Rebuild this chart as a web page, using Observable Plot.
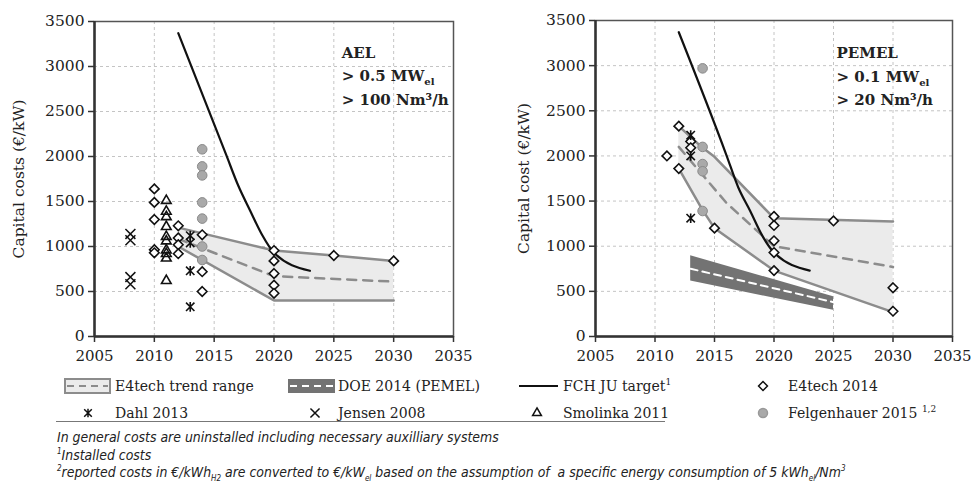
<!DOCTYPE html>
<html><head><meta charset="utf-8">
<script src="https://cdn.jsdelivr.net/npm/d3@7"></script>
<script src="https://cdn.jsdelivr.net/npm/@observablehq/plot@0.6"></script>
<style>
body{margin:0;background:#fff;}
#wrap{position:relative;width:971px;height:485px;overflow:hidden;font-family:"DejaVu Serif",serif;color:#222;}
#left,#right,#legend,#notes{position:absolute;}
#left{left:0;top:0}
#right{left:486px;top:0}
#legend{left:0;top:360px}
#notes{left:57px;top:429px;font-family:"Liberation Sans Narrow","DejaVu Sans Condensed","DejaVu Sans",sans-serif;font-style:italic;font-size:13.9px;line-height:17.5px;color:#222;white-space:nowrap;}
#notes sub,#notes sup{font-size:8px;line-height:0;}
</style></head><body>
<div id="wrap">
<div id="left"></div><div id="right"></div>
<svg id="legend" width="971" height="68"></svg>
<div id="notes">
<div>In general costs are uninstalled including necessary auxilliary systems</div>
<div><sup>1</sup>Installed costs</div>
<div><sup>2</sup>reported costs in €/kWh<sub>H2</sub> are converted to €/kW<sub>el</sub> based on the assumption of&nbsp; a specific energy consumption of 5 kWh<sub>el</sub>/Nm<sup>3</sup></div>
</div>
</div>
<script>
// ---------- data ----------
const xTicks = [2005, 2010, 2015, 2020, 2025, 2030, 2035];
const yTicks = [0, 500, 1000, 1500, 2000, 2500, 3000, 3500];

// AEL panel
const aelE4tech = [[2010,1640],[2010,1490],[2010,1300],[2010,965],[2010,930],
  [2012,1230],[2012,1095],[2012,1020],[2012,920],
  [2014,1130],[2014,720],[2014,500],
  [2020,955],[2020,840],[2020,700],[2020,570],[2020,480],
  [2025,900],[2030,840]];
const aelSmolinka = [[2011,1510],[2011,1390],[2011,1330],[2011,1220],[2011,1110],[2011,1060],[2011,960],[2011,920],[2011,870],[2011,620]];
const aelJensen = [[2008,1140],[2008,1070],[2008,660],[2008,580]];
const aelDahl = [[2013,1120],[2013,1040],[2013,730],[2013,330]];
const aelFelgenhauer = [[2014,2080],[2014,1890],[2014,1790],[2014,1490],[2014,1310],[2014,1000],[2014,850]];
// [year, lower, upper]
const aelBand = [[2012,1000,1210],[2020,400,955],[2025,400,900],[2030,400,840]];
const aelTrend = [[2012,1085],[2020,670],[2030,610]];
const aelFch = [[2012,3370],[2016,2020],[2017,1680],[2018,1400],[2019,1130],[2020,930],[2023,730]];

// PEMEL panel
const pemE4tech = [[2011,2000],[2012,2330],[2012,1860],[2013,2160],[2013,2090],[2015,1200],
  [2020,1330],[2020,1230],[2020,1060],[2020,930],[2020,730],[2025,1280],[2030,540],[2030,280]];
const pemDahl = [[2013,2230],[2013,2000],[2013,1310]];
const pemFelgenhauer = [[2014,2970],[2014,2100],[2014,1910],[2014,1830],[2014,1390]];
const pemBand = [[2012,1860,2330],[2014,1400,2090],[2015,1200,1990],[2020,730,1310],[2030,270,1275]];
const pemTrend = [[2012,2100],[2016,1480],[2020,1000],[2030,770]];
const doeBand = [[2013,615,895],[2025,290,440]];
const doeTrend = [[2013,750],[2025,380]];
const pemFch = [[2012,3370],[2016,2010],[2017,1650],[2018,1390],[2019,1120],[2020,930],[2023,730]];

// ---------- styles ----------
const bandFill = "#ebebeb", bandEdge = "#8c8c8c", doeFill = "#737373";
const dahlSymbol = {draw(ctx, size){const r = Math.sqrt(size/Math.PI);
  ctx.moveTo(-r,-r); ctx.lineTo(r,r); ctx.moveTo(r,-r); ctx.lineTo(-r,r); ctx.moveTo(0,-r*1.15); ctx.lineTo(0,r*1.15);}};
const X = d => d[0], Y = d => d[1];

function panel(o){
  const marks = [
    Plot.gridX(xTicks, {stroke:"#c4c4c4", strokeOpacity:1, strokeDasharray:"3,3"}),
    Plot.gridY(yTicks, {stroke:"#c4c4c4", strokeOpacity:1, strokeDasharray:"3,3"}),
    Plot.areaY(o.band, {x: X, y1: d=>d[1], y2: d=>d[2], fill: bandFill}),
    Plot.line(o.band, {x: X, y: d=>d[2], stroke: bandEdge, strokeWidth: 2.5}),
    Plot.line(o.band, {x: X, y: d=>d[1], stroke: bandEdge, strokeWidth: 2.5}),
    Plot.line(o.trend, {x: X, y: Y, stroke: bandEdge, strokeWidth: 2.5, strokeDasharray: "9,7"}),
  ];
  if (o.doe) {
    marks.push(Plot.areaY(o.doe, {x: X, y1: d=>d[1], y2: d=>d[2], fill: doeFill}));
    marks.push(Plot.line(o.doeTrend, {x: X, y: Y, stroke: "#fff", strokeWidth: 2, strokeDasharray: "7,5"}));
  }
  marks.push(
    Plot.line(o.fch, {x: X, y: Y, stroke: "#111", strokeWidth: 2.2, curve: "monotone-x"}),
    Plot.frame({stroke: "#555", strokeWidth: 1.5}),
    Plot.ruleX([2005], {stroke: "#333", strokeWidth: 2.5}),
    Plot.ruleY([0], {stroke: "#333", strokeWidth: 2.5}),
    Plot.axisX({ticks: xTicks, tickFormat: "d", tickSize: 6, tickPadding: 8, stroke: "#333", strokeWidth: 1.5, fontSize: 15, label: null}),
    Plot.axisY({ticks: yTicks, tickFormat: "d", tickSize: 6, tickPadding: 4, stroke: "#333", strokeWidth: 1.5, fontSize: 15.5,
      label: o.ylabel, labelAnchor: "center", labelOffset: o.labelOffset, labelArrow: "none"})
  );
  if (o.jensen) marks.push(Plot.dot(o.jensen, {x: X, y: Y, symbol: "times", r: 4.6, stroke: "#111", strokeWidth: 1.5}));
  if (o.smolinka) marks.push(Plot.dot(o.smolinka, {x: X, y: Y, symbol: "triangle2", r: 4.6, fill: "#fff", fillOpacity: 0, stroke: "#111", strokeWidth: 1.6}));
  marks.push(
    Plot.dot(o.felg, {x: X, y: Y, r: 4.8, fill: "#a9a9a9", stroke: "#8a8a8a", strokeWidth: 1}),
    Plot.dot(o.e4, {x: X, y: Y, symbol: "diamond2", r: 4.3, fill: "#fff", stroke: "#111", strokeWidth: 1.6}),
    Plot.dot(o.dahl, {x: X, y: Y, symbol: dahlSymbol, r: 4.2, fill: "none", stroke: "#111", strokeWidth: 1.6})
  );
  const p = Plot.plot({
    width: 485, height: 370,
    marginLeft: o.ml, marginRight: o.mr, marginTop: o.mt, marginBottom: 34,
    x: {domain: [2005, 2035]},
    y: {domain: [0, 3500]},
    style: {fontFamily: "DejaVu Serif", fontSize: "16px", color: "#222", background: "#fff", overflow: "visible"},
    marks
  });
  // annotation, positioned through the plot's scales
  const sx = p.scale("x"), sy = p.scale("y");
  const g = d3.select(p).append("g").attr("font-family","DejaVu Serif").attr("font-weight","bold")
    .attr("font-size",15).attr("fill","#222").attr("text-anchor","start");
  const x0 = sx.apply(o.note.x);
  g.append("text").attr("x", x0).attr("y", sy.apply(o.note.y[0])).attr("dy","0.35em").text(o.note.title);
  const t2 = g.append("text").attr("x", x0).attr("y", sy.apply(o.note.y[1])).attr("dy","0.35em");
  t2.append("tspan").text(o.note.mw);
  t2.append("tspan").attr("font-size",10).attr("dy","4").text("el");
  g.append("text").attr("x", x0).attr("y", sy.apply(o.note.y[2])).attr("dy","0.35em").text(o.note.flow);
  return p;
}

document.getElementById("left").appendChild(panel({
  ml: 94, mr: 32, mt: 21, ylabel: "Capital costs (€/kW)", labelOffset: 82,
  band: aelBand, trend: aelTrend, fch: aelFch, e4: aelE4tech, felg: aelFelgenhauer, dahl: aelDahl,
  jensen: aelJensen, smolinka: aelSmolinka,
  note: {x: 2025.7, y: [3145, 2895, 2630], title: "AEL", mw: "> 0.5 MW", flow: "> 100 Nm³/h"}
}));
document.getElementById("right").appendChild(panel({
  ml: 109, mr: 19, mt: 20, ylabel: "Capital cost (€/kW)", labelOffset: 78,
  band: pemBand, trend: pemTrend, fch: pemFch, e4: pemE4tech, felg: pemFelgenhauer, dahl: pemDahl,
  doe: doeBand, doeTrend: doeTrend,
  note: {x: 2025.3, y: [3135, 2870, 2615], title: "PEMEL", mw: "> 0.1 MW", flow: "> 20 Nm³/h"}
}));

// ---------- legend ----------
const lg = d3.select("#legend").attr("font-family","DejaVu Serif").attr("font-size",14).attr("fill","#222");
const r1 = 26, r2 = 53;
lg.append("rect").attr("x",65).attr("y",r1-7).attr("width",45).attr("height",14).attr("fill",bandFill).attr("stroke",bandEdge).attr("stroke-width",2);
lg.append("line").attr("x1",67).attr("x2",108).attr("y1",r1).attr("y2",r1).attr("stroke",bandEdge).attr("stroke-width",2).attr("stroke-dasharray","7,5");
lg.append("rect").attr("x",288).attr("y",r1-7).attr("width",47).attr("height",14).attr("fill",doeFill);
lg.append("line").attr("x1",290).attr("x2",333).attr("y1",r1).attr("y2",r1).attr("stroke","#fff").attr("stroke-width",2).attr("stroke-dasharray","7,5");
lg.append("line").attr("x1",519).attr("x2",558).attr("y1",r1).attr("y2",r1).attr("stroke","#111").attr("stroke-width",2.2);
const sym = (type, r, x, y, fill, stroke) => lg.append("path")
  .attr("d", d3.symbol(type, r*r*Math.PI)()).attr("transform",`translate(${x},${y})`)
  .attr("fill",fill).attr("stroke",stroke).attr("stroke-width",1.5);
sym(d3.symbolDiamond2, 4, 763, r1, "#fff", "#111");
sym(dahlSymbol, 3.8, 88, r2, "none", "#111");
sym(d3.symbolTimes, 4.2, 315, r2, "none", "#111");
sym(d3.symbolTriangle2, 4.2, 537, r2, "none", "#111");
sym(d3.symbolCircle, 4.5, 763, r2, "#a9a9a9", "#999");
const lt = (x, y, s) => lg.append("text").attr("x",x).attr("y",y).attr("dy","0.35em").text(s);
lt(115, r1, "E4tech trend range");
lt(338, r1, "DOE 2014 (PEMEL)");
const f = lt(563, r1, "FCH JU target"); f.append("tspan").attr("font-size",9).attr("dy",-6).text("1");
lt(788, r1, "E4tech 2014");
lt(115, r2, "Dahl 2013");
lt(338, r2, "Jensen 2008");
lt(563, r2, "Smolinka 2011");
const fg = lt(788, r2, "Felgenhauer 2015 "); fg.append("tspan").attr("font-size",9).attr("dy",-6).text("1,2");
lg.append("line").attr("x1",56).attr("x2",665).attr("y1",61.5).attr("y2",61.5).attr("stroke","#777").attr("stroke-width",1);
</script>
</body></html>
